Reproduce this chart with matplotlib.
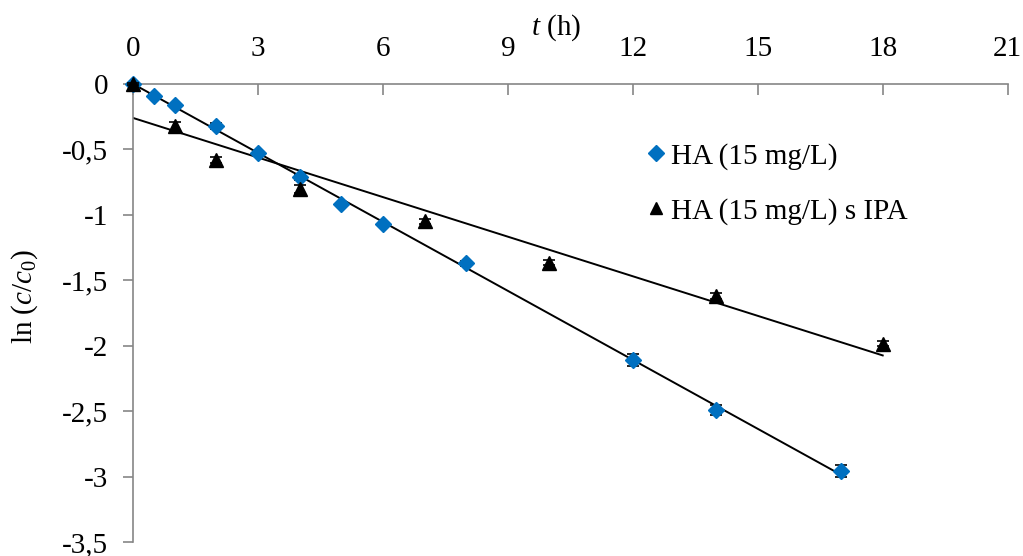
import numpy as np
import matplotlib
matplotlib.use("Agg")
import matplotlib.pyplot as plt
from matplotlib.ticker import FuncFormatter, MultipleLocator
from matplotlib.lines import Line2D

plt.rcParams['font.family'] = ['Liberation Serif', 'DejaVu Serif']
plt.rcParams['mathtext.fontset'] = 'custom'
plt.rcParams['mathtext.rm'] = 'Liberation Serif'
plt.rcParams['mathtext.it'] = 'Liberation Serif:italic'
plt.rcParams['axes.unicode_minus'] = False

# Data
t_ha = [0, 0.5, 1, 2, 3, 4, 5, 6, 8, 12, 14, 17]
y_ha = [0, -0.09, -0.16, -0.32, -0.53, -0.71, -0.92, -1.07, -1.37, -2.11, -2.49, -2.96]
e_ha = [0.01, 0.01, 0.01, 0.02, 0.01, 0.02, 0.01, 0.01, 0.02, 0.045, 0.04, 0.045]

t_ipa = [0, 1, 2, 4, 7, 10, 14, 18]
y_ipa = [0, -0.32, -0.58, -0.80, -1.05, -1.365, -1.62, -1.985]
e_ipa = [0.01, 0.03, 0.02, 0.03, 0.02, 0.02, 0.02, 0.02]

labels = ["HA (15 mg/L)", "HA (15 mg/L) s IPA"]
blue = '#0070C0'
gray = '#868686'
FS = 21

fig = plt.figure(figsize=(10.23, 5.56), dpi=100)
ax = fig.add_axes([0.130, 0.0252, 0.855, 0.8237])

# trend lines (least squares)
p1 = np.polyfit(t_ha, y_ha, 1)
p2 = np.polyfit(t_ipa, y_ipa, 1)
xs1 = np.array([0, max(t_ha)])
xs2 = np.array([0, max(t_ipa)])
ax.plot(xs1, np.polyval(p1, xs1), color='black', lw=1.4, zorder=2)
ax.plot(xs2, np.polyval(p2, xs2), color='black', lw=1.4, zorder=2)

c1 = ax.errorbar(t_ha, y_ha, yerr=e_ha, fmt='D', color=blue, ms=8.5, mec=blue,
                 ecolor='black', elinewidth=1, capsize=4.5, capthick=1.2, zorder=3)
c2 = ax.errorbar(t_ipa, y_ipa, yerr=e_ipa, fmt='^', color='black', ms=10.5,
                 ecolor='black', elinewidth=1, capsize=4.5, capthick=1.2, zorder=4)
for c in (c1, c2):
    for art in c.get_children():
        art.set_clip_on(False)

ax.set_xlim(0, 21)
ax.set_ylim(-3.5, 0)
ax.xaxis.set_major_locator(MultipleLocator(3))
ax.yaxis.set_major_locator(MultipleLocator(0.5))
fmt = FuncFormatter(lambda v, p: ('%g' % v).replace('.', ','))
ax.yaxis.set_major_formatter(fmt)
ax.xaxis.set_major_formatter(fmt)

ax.xaxis.tick_top()
for s in ['right', 'bottom']:
    ax.spines[s].set_visible(False)
for s in ['top', 'left']:
    ax.spines[s].set_color(gray)
    ax.spines[s].set_linewidth(1.2)
ax.tick_params(axis='x', direction='in', length=8, width=1.2, color=gray,
               labelsize=FS, pad=16)
ax.tick_params(axis='y', direction='out', length=7, width=1.2, color=gray,
               labelsize=FS, pad=11)

fig.text(556 / 1023, 1 - 35 / 556, r'$t$ (h)', fontsize=FS, ha='center', va='baseline')
ax.set_ylabel(r'ln ($c$/$c_0$)', fontsize=FS)
ax.yaxis.set_label_coords(-0.106, 0.535)

handles = [Line2D([], [], marker='D', color=blue, ls='none', ms=8.5),
           Line2D([], [], marker='^', color='black', ls='none', ms=9)]
ax.legend(handles, labels, loc='upper left', bbox_to_anchor=(0.588, 0.871),
          frameon=False, fontsize=FS, handlelength=0.6, handletextpad=0.22,
          labelspacing=0.95, borderaxespad=0, borderpad=0)

fig.savefig('out.png', dpi=100)
